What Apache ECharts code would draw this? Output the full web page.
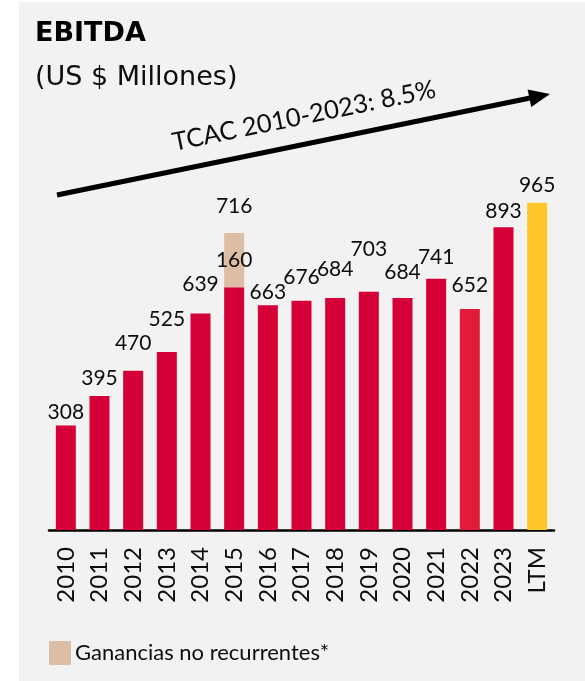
<!DOCTYPE html>
<html>
<head>
<meta charset="utf-8">
<script src="https://cdn.jsdelivr.net/npm/echarts@6/dist/echarts.min.js"></script>
<style>
  html, body { margin: 0; padding: 0; background: #ffffff; }
  #chart { width: 585px; height: 681px; }
</style>
</head>
<body>
<div id="chart"></div>
<script>
// EBITDA by year, US$ millions
const years = ['2010', '2011', '2012', '2013', '2014', '2015', '2016', '2017',
               '2018', '2019', '2020', '2021', '2022', '2023', 'LTM'];
const ebitda = [308, 395, 470, 525, 639, 716, 663, 676, 684, 703, 684, 741, 652, 893, 965];
// Non-recurring gains stacked on top of the 2015 bar
const nonRecurring = ['-', '-', '-', '-', '-', 160, '-', '-', '-', '-', '-', '-', '-', '-', '-'];
const growthNote = 'TCAC 2010-2023: 8.5%';

// Styling
const RED = '#D50037';
const RED_LIGHT = '#E31B3B';
const YELLOW = '#FFC629';
const BEIGE = '#DDBEA4';
const TEXT = '#0d0d0d';
const FONT = 'Lato, "Open Sans", sans-serif';

// Vertical spacing of each value label above its bar (px)
const labelLift = [3, 7.5, 16.5, 22.5, 18.5, 16.5, 2.5, 13, 18, 31.5, 15, 11.5, 13.5, 6, 7.5];

function barColor(i) {
  if (years[i] === 'LTM') return YELLOW;
  if (years[i] === '2022') return RED_LIGHT;
  return RED;
}

const valueLabel = { color: TEXT, fontSize: 21, fontFamily: FONT };

// Trend arrow geometry
const arrowStart = [57, 195];
const arrowTip = [550, 94];
const dx = arrowTip[0] - arrowStart[0];
const dy = arrowTip[1] - arrowStart[1];
const len = Math.sqrt(dx * dx + dy * dy);
const ux = dx / len, uy = dy / len;
const headLen = 21, headHalf = 9;
const baseC = [arrowTip[0] - ux * headLen, arrowTip[1] - uy * headLen];
const head = [
  arrowTip,
  [baseC[0] - uy * headHalf, baseC[1] + ux * headHalf],
  [baseC[0] + uy * headHalf, baseC[1] - ux * headHalf]
];
const angle = Math.atan2(-dy, dx);

const chart = echarts.init(document.getElementById('chart'), null, { renderer: 'canvas' });

chart.setOption({
  animation: false,
  backgroundColor: 'transparent',
  grid: { left: 49, right: 31, top: 191, bottom: 151, containLabel: false },
  legend: {
    data: ['Ganancias no recurrentes*'],
    left: 44,
    top: 636,
    itemWidth: 22,
    itemHeight: 24,
    icon: 'rect',
    textStyle: { color: TEXT, fontSize: 22, fontFamily: FONT, padding: [0, 0, 3, -1] }
  },
  xAxis: {
    type: 'category',
    data: years,
    axisTick: { show: false },
    axisLine: { lineStyle: { color: '#000000', width: 2.5 } },
    axisLabel: { rotate: 90, fontSize: 24, color: TEXT, fontFamily: FONT, margin: 17 }
  },
  yAxis: { type: 'value', min: 0, max: 1000, show: false },
  series: [
    {
      name: 'EBITDA',
      type: 'bar',
      stack: 'total',
      barWidth: 20,
      data: ebitda.map((v, i) => ({
        value: v,
        itemStyle: { color: barColor(i) },
        label: { show: nonRecurring[i] === '-', distance: labelLift[i] }
      })),
      label: Object.assign({ position: 'top' }, valueLabel)
    },
    {
      name: 'Ganancias no recurrentes*',
      type: 'bar',
      stack: 'total',
      barWidth: 20,
      itemStyle: { color: BEIGE },
      data: nonRecurring,
      label: Object.assign({ show: true, position: 'inside' }, valueLabel)
    },
    {
      // carries the EBITDA label above the stacked 2015 column
      name: 'total',
      type: 'bar',
      stack: 'total',
      barWidth: 20,
      data: nonRecurring.map(v => (v === '-' ? '-' : 0)),
      itemStyle: { color: 'transparent' },
      label: Object.assign({
        show: true,
        position: 'top',
        distance: labelLift[5],
        formatter: p => String(ebitda[p.dataIndex])
      }, valueLabel)
    }
  ],
  graphic: [
    {
      type: 'rect', z: -100, silent: true,
      shape: { x: 19, y: 2, width: 566, height: 679 },
      style: { fill: '#F2F2F2' }
    },
    {
      type: 'text', x: 35, y: 34,
      style: { text: 'EBITDA', font: 'bold 27px "DejaVu Sans"', fill: '#000000', verticalAlign: 'middle' }
    },
    {
      type: 'text', x: 35, y: 78,
      style: { text: '(US $ Millones)', font: '27px "DejaVu Sans"', fill: TEXT, verticalAlign: 'middle' }
    },
    {
      type: 'line', silent: true,
      shape: { x1: arrowStart[0], y1: arrowStart[1], x2: baseC[0] + ux * 2, y2: baseC[1] + uy * 2 },
      style: { stroke: '#000000', lineWidth: 5 }
    },
    {
      type: 'polygon', silent: true,
      shape: { points: head },
      style: { fill: '#000000' }
    },
    {
      type: 'text', x: 304, y: 116, rotation: angle,
      style: { text: growthNote, font: '25.5px ' + FONT, fill: TEXT, align: 'center', verticalAlign: 'middle' }
    }
  ]
});
</script>
</body>
</html>
